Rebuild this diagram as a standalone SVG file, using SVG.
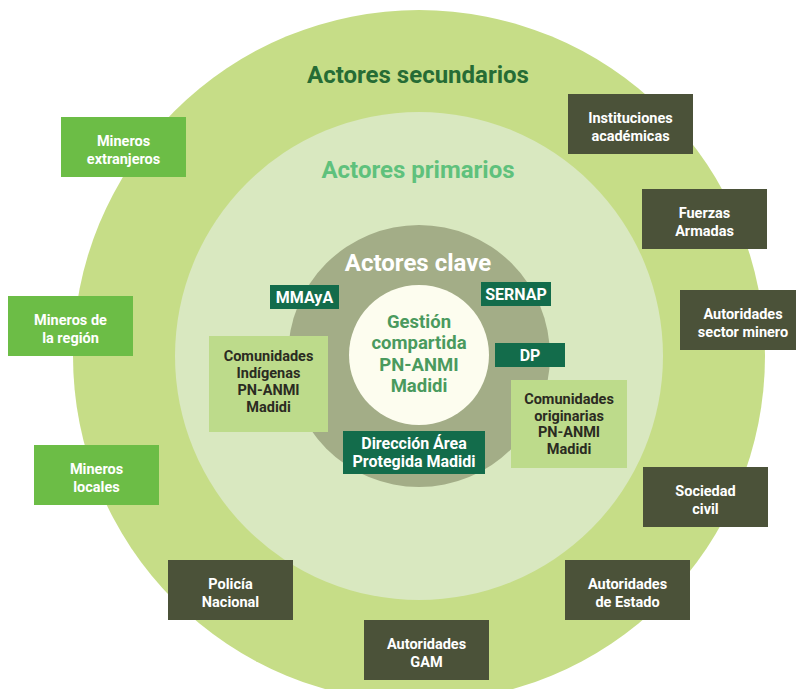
<svg xmlns="http://www.w3.org/2000/svg" width="796" height="689" viewBox="0 0 796 689">
  <style>
    text { font-family: Roboto, "Liberation Sans", sans-serif; font-weight: bold; text-anchor: middle; }
    .ring-outer { fill: #c6dd87; }
    .ring-mid { fill: #d9e8c0; }
    .ring-key { fill: #a3ad87; }
    .core { fill: #fdfdef; }
    .title { font-size: 24px; }
    .t-sec { fill: #266c35; }
    .t-pri { fill: #5fc17c; }
    .t-key { fill: #ffffff; }
    .core-text { font-size: 18.5px; fill: #4a9a5e; }
    .box-miner { fill: #6cbd46; }
    .box-sec { fill: #4b5239; }
    .box-key { fill: #136c4b; }
    .box-pri { fill: #bddb8b; }
    .lbl { font-size: 14.5px; fill: #ffffff; }
    .lbl-key { font-size: 16px; fill: #ffffff; }
    .lbl-pri { font-size: 14.5px; fill: #2b2b22; }
  </style>

  <!-- concentric stakeholder rings -->
  <g id="rings">
    <circle class="ring-outer" cx="419" cy="356" r="346"/>
    <circle class="ring-mid" cx="419" cy="356" r="244"/>
    <circle class="ring-key" cx="419" cy="356" r="131"/>
    <circle class="core" cx="419" cy="355" r="70"/>
  </g>

  <g id="titles">
    <text class="title t-sec" x="418" y="83">Actores secundarios</text>
    <text class="title t-pri" x="418" y="178">Actores primarios</text>
    <text class="title t-key" x="418" y="271">Actores clave</text>
  </g>

  <g id="core">
    <text class="core-text" x="419" y="327.5">Gestión</text>
    <text class="core-text" x="419" y="349">compartida</text>
    <text class="core-text" x="419" y="370.5">PN-ANMI</text>
    <text class="core-text" x="419" y="392">Madidi</text>
  </g>

  <!-- connectors: none drawn -->
  <g id="connectors"/>

  <!-- key actors -->
  <g id="mmaya">
    <rect class="box-key" x="270" y="285" width="69" height="24"/>
    <text class="lbl-key" x="304.5" y="302.5">MMAyA</text>
  </g>
  <g id="sernap">
    <rect class="box-key" x="481" y="282" width="70" height="24"/>
    <text class="lbl-key" x="516" y="299.5">SERNAP</text>
  </g>
  <g id="dp">
    <rect class="box-key" x="495" y="343" width="70" height="24"/>
    <text class="lbl-key" x="530" y="360.5">DP</text>
  </g>
  <g id="direccion">
    <rect class="box-key" x="343" y="431" width="142" height="43"/>
    <text class="lbl-key" x="414" y="449">Dirección Área</text>
    <text class="lbl-key" x="414" y="466.5">Protegida Madidi</text>
  </g>

  <!-- primary actors -->
  <g id="com-indigenas">
    <rect class="box-pri" x="209" y="336" width="119" height="96"/>
    <text class="lbl-pri" x="268.5" y="361">Comunidades</text>
    <text class="lbl-pri" x="268.5" y="378">Indígenas</text>
    <text class="lbl-pri" x="268.5" y="395">PN-ANMI</text>
    <text class="lbl-pri" x="268.5" y="412">Madidi</text>
  </g>
  <g id="com-originarias">
    <rect class="box-pri" x="511" y="380" width="116" height="88"/>
    <text class="lbl-pri" x="569" y="404">Comunidades</text>
    <text class="lbl-pri" x="569" y="420.7">originarias</text>
    <text class="lbl-pri" x="569" y="437.3">PN-ANMI</text>
    <text class="lbl-pri" x="569" y="454">Madidi</text>
  </g>

  <!-- miners -->
  <g id="mineros-extranjeros">
    <rect class="box-miner" x="61" y="117" width="125" height="60"/>
    <text class="lbl" x="123.5" y="146">Mineros</text>
    <text class="lbl" x="123.5" y="164">extranjeros</text>
  </g>
  <g id="mineros-region">
    <rect class="box-miner" x="8" y="296" width="125" height="60"/>
    <text class="lbl" x="70.5" y="325">Mineros de</text>
    <text class="lbl" x="70.5" y="343">la región</text>
  </g>
  <g id="mineros-locales">
    <rect class="box-miner" x="34" y="445" width="125" height="60"/>
    <text class="lbl" x="96.5" y="474">Mineros</text>
    <text class="lbl" x="96.5" y="492">locales</text>
  </g>

  <!-- secondary actors -->
  <g id="instituciones">
    <rect class="box-sec" x="568" y="94" width="125" height="60"/>
    <text class="lbl" x="630.5" y="123">Instituciones</text>
    <text class="lbl" x="630.5" y="141">académicas</text>
  </g>
  <g id="fuerzas-armadas">
    <rect class="box-sec" x="642" y="189" width="125" height="60"/>
    <text class="lbl" x="704.5" y="218">Fuerzas</text>
    <text class="lbl" x="704.5" y="236">Armadas</text>
  </g>
  <g id="autoridades-minero">
    <rect class="box-sec" x="680" y="290" width="125" height="60"/>
    <text class="lbl" x="743" y="319">Autoridades</text>
    <text class="lbl" x="743" y="337">sector minero</text>
  </g>
  <g id="sociedad-civil">
    <rect class="box-sec" x="643" y="467" width="125" height="60"/>
    <text class="lbl" x="705.5" y="496">Sociedad</text>
    <text class="lbl" x="705.5" y="514">civil</text>
  </g>
  <g id="autoridades-estado">
    <rect class="box-sec" x="565" y="560" width="125" height="60"/>
    <text class="lbl" x="627.5" y="589">Autoridades</text>
    <text class="lbl" x="627.5" y="607">de Estado</text>
  </g>
  <g id="autoridades-gam">
    <rect class="box-sec" x="364" y="620" width="125" height="60"/>
    <text class="lbl" x="426.5" y="649">Autoridades</text>
    <text class="lbl" x="426.5" y="667">GAM</text>
  </g>
  <g id="policia">
    <rect class="box-sec" x="168" y="560" width="125" height="60"/>
    <text class="lbl" x="230.5" y="589">Policía</text>
    <text class="lbl" x="230.5" y="607">Nacional</text>
  </g>
</svg>
